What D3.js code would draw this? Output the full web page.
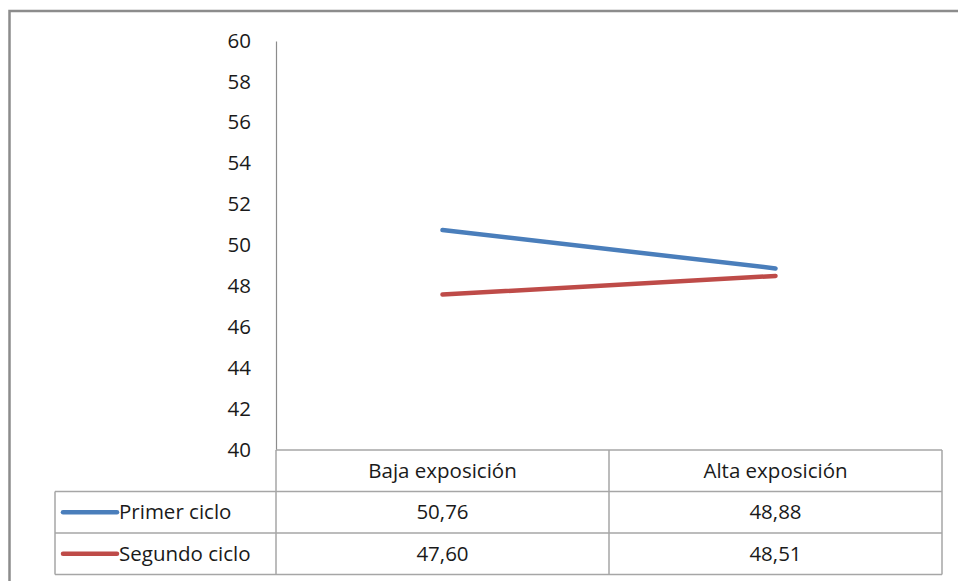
<!DOCTYPE html>
<html>
<head>
<meta charset="utf-8">
<script src="https://cdn.jsdelivr.net/npm/d3@7"></script>
<style>
  body { margin: 0; background: #fff; }
  svg text { font-family: 'Open Sans', 'Noto Sans', sans-serif; fill: #1a1a1a; }
</style>
</head>
<body>
<svg id="chart" width="958" height="581"></svg>
<script>
// data
const categories = ['Baja exposición', 'Alta exposición']
const seriesNames = ['Primer ciclo', 'Segundo ciclo']
const primerCiclo = [50.76, 48.88]
const segundoCiclo = [47.60, 48.51]
const seriesColors = ['#4a7ebb', '#be4b48']
const yTicks = [40, 42, 44, 46, 48, 50, 52, 54, 56, 58, 60]

const svg = d3.select('#chart')
const plot = { left: 276, right: 942, top: 41, bottom: 450 }
const rowH = 41.5
const tableLeft = 55
const fontSize = '20.5px'
const fmt = v => d3.format('.2f')(v).replace('.', ',')

// outer frame
svg.append('rect')
  .attr('x', 9.5).attr('y', 11)
  .attr('width', 1000).attr('height', 1000)
  .attr('fill', 'none')
  .attr('stroke', '#8c8c8c')
  .attr('stroke-width', 2.5)

const xScale = d3.scaleBand().domain(categories).range([plot.left, plot.right])
const yScale = d3.scaleLinear().domain([40, 60]).range([plot.bottom, plot.top])

// y axis
const yAxis = d3.axisLeft(yScale).tickValues(yTicks).tickSize(0).tickPadding(25)
const gy = svg.append('g')
  .attr('transform', `translate(${plot.left}, 0)`)
  .call(yAxis)
gy.select('.domain').attr('stroke', '#8c8c8c').attr('stroke-width', 1.2)
gy.selectAll('.tick text')
  .style('font-size', fontSize)
  .attr('fill', '#1a1a1a')
  .attr('dy', '0.3em')

// data table
const grid = svg.append('g')
  .attr('stroke', '#a6a6a6')
  .attr('stroke-width', 1.5)
  .attr('fill', 'none')
// horizontal lines
grid.append('line').attr('x1', plot.left).attr('x2', plot.right).attr('y1', plot.bottom).attr('y2', plot.bottom)
for (let i = 1; i <= 3; i++) {
  const y = plot.bottom + rowH * i
  grid.append('line').attr('x1', tableLeft).attr('x2', plot.right).attr('y1', y).attr('y2', y)
}
// vertical lines
grid.append('line').attr('x1', tableLeft).attr('x2', tableLeft).attr('y1', plot.bottom + rowH).attr('y2', plot.bottom + rowH * 3)
categories.forEach(c => {
  const x = xScale(c) + xScale.bandwidth()
  grid.append('line').attr('x1', x).attr('x2', x).attr('y1', plot.bottom).attr('y2', plot.bottom + rowH * 3)
})
grid.append('line').attr('x1', plot.left).attr('x2', plot.left).attr('y1', plot.bottom).attr('y2', plot.bottom + rowH * 3)

// category headers
svg.append('g').selectAll('text')
  .data(categories)
  .enter()
  .append('text')
  .attr('x', d => xScale(d) + xScale.bandwidth() / 2)
  .attr('y', plot.bottom + rowH / 2)
  .attr('dy', '0.35em')
  .attr('text-anchor', 'middle')
  .style('font-size', fontSize)
  .text(d => d)

const series = [primerCiclo, segundoCiclo]

// table values and legend keys
series.forEach((values, i) => {
  const yRow = plot.bottom + rowH * (i + 1) + rowH / 2
  svg.append('line')
    .attr('x1', 63).attr('x2', 117)
    .attr('y1', yRow).attr('y2', yRow)
    .attr('stroke', seriesColors[i])
    .attr('stroke-width', 4.5)
    .attr('stroke-linecap', 'round')
  svg.append('text')
    .attr('x', 119)
    .attr('y', yRow)
    .attr('dy', '0.35em')
    .style('font-size', fontSize)
    .text(seriesNames[i])
  svg.append('g').selectAll('text')
    .data(values)
    .enter()
    .append('text')
    .attr('x', (d, j) => xScale(categories[j]) + xScale.bandwidth() / 2)
    .attr('y', yRow)
    .attr('dy', '0.35em')
    .attr('text-anchor', 'middle')
    .style('font-size', fontSize)
    .text(d => fmt(d))
})

// lines
const line = d3.line()
  .x((d, j) => xScale(categories[j]) + xScale.bandwidth() / 2)
  .y(d => yScale(d))
svg.append('g').selectAll('path')
  .data(series)
  .enter()
  .append('path')
  .attr('d', d => line(d))
  .attr('fill', 'none')
  .attr('stroke', (d, i) => seriesColors[i])
  .attr('stroke-width', 4.5)
  .attr('stroke-linecap', 'round')
</script>
</body>
</html>
